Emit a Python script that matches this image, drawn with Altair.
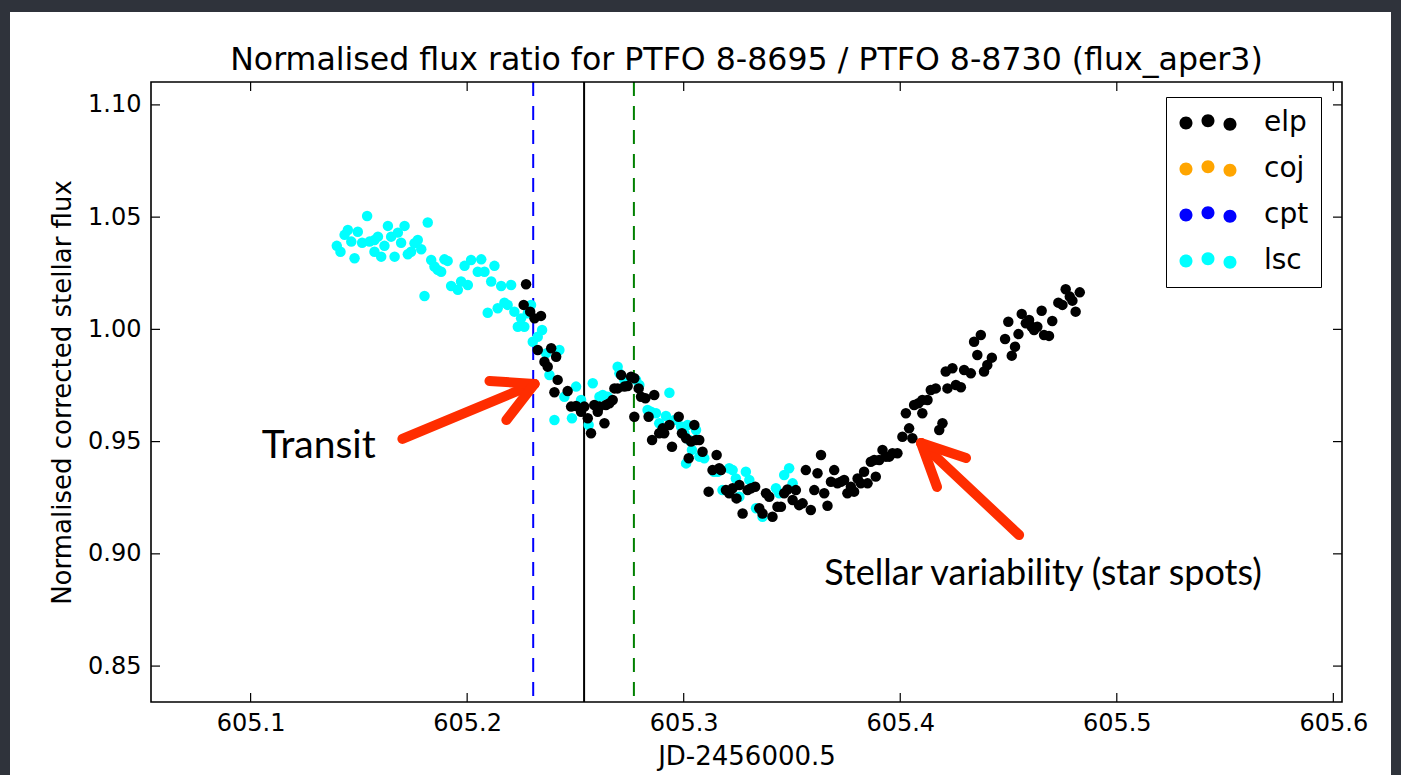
import altair as alt
import pandas as pd

# ---------------- data ----------------
elp_x = [605.2272, 605.2261, 605.2291, 605.2311, 605.2341, 605.2326, 605.2388, 605.2411, 605.2357, 605.2372,
         605.2418, 605.2403,
         605.2464, 605.2480, 605.2503, 605.2526, 605.2541, 605.2557, 605.2572, 605.2587, 605.2603, 605.2611,
         605.2634, 605.2641, 605.2657, 605.2672, 605.2680, 605.2695, 605.2711, 605.2726, 605.2741, 605.2757,
         605.2772, 605.2772, 605.2792, 605.2803, 605.2823, 605.2838, 605.2864, 605.2854, 605.2887, 605.2903,
         605.2910, 605.2934, 605.2946, 605.2977, 605.2992, 605.3011, 605.3023, 605.3034, 605.3049, 605.3057,
         605.3072, 605.3087, 605.3115, 605.3133, 605.3152, 605.3164, 605.3172, 605.3195, 605.3210, 605.3226,
         605.3244, 605.3257, 605.3272, 605.3295, 605.3311, 605.3330, 605.3349, 605.3364, 605.3380, 605.3395,
         605.3410, 605.3433, 605.3449, 605.3464, 605.3479, 605.3503, 605.3518, 605.3533, 605.3549, 605.3564,
         605.3587, 605.3603, 605.3618, 605.3634, 605.3649, 605.3664, 605.3680, 605.3695, 605.3710, 605.3726,
         605.3741, 605.3756, 605.3772, 605.3787, 605.3803, 605.3818, 605.3833, 605.3849, 605.3864, 605.3880,
         605.3887, 605.3903, 605.3918, 605.3934, 605.3949, 605.3964, 605.3987, 605.4010, 605.4026, 605.4041,
         605.4056, 605.4064, 605.4084, 605.4102, 605.4102, 605.4126, 605.4141, 605.4164, 605.4180, 605.4195,
         605.4210, 605.4218,
         605.4257, 605.4280, 605.4241, 605.4295, 605.4326, 605.4341, 605.4372, 605.4356, 605.4387, 605.4402,
         605.4423, 605.4484, 605.4499, 605.4515, 605.4530, 605.4546, 605.4561, 605.4580, 605.4595, 605.4607,
         605.4618, 605.4633, 605.4653, 605.4664, 605.4687, 605.4702, 605.4730, 605.4749, 605.4764, 605.4783,
         605.4795, 605.4810, 605.4829]
elp_y = [1.0201, 1.0109, 1.0079, 1.0049, 1.0060, 0.9908, 0.9916, 0.9878, 0.9856, 0.9834,
         0.9775, 0.9720,
         0.9725, 0.9656, 0.9659, 0.9633, 0.9656, 0.9604, 0.9537, 0.9663, 0.9633, 0.9656,
         0.9582, 0.9663, 0.9671, 0.9685, 0.9737, 0.9737, 0.9797, 0.9745, 0.9748, 0.9789,
         0.9611, 0.9782, 0.9737, 0.9700, 0.9693, 0.9611, 0.9708, 0.9507, 0.9537, 0.9559,
         0.9537, 0.9574, 0.9477, 0.9611, 0.9537, 0.9515, 0.9426, 0.9500, 0.9574, 0.9507,
         0.9507, 0.9455, 0.9277, 0.9373, 0.9440, 0.9381, 0.9373, 0.9284, 0.9270, 0.9292,
         0.9247, 0.9307, 0.9180, 0.9284, 0.9292, 0.9299, 0.9203, 0.9180, 0.9270, 0.9254,
         0.9165, 0.9210, 0.9210, 0.9270, 0.9287, 0.9240, 0.9284, 0.9217, 0.9225, 0.9373,
         0.9195, 0.9284, 0.9359, 0.9440, 0.9270, 0.9214, 0.9321, 0.9373, 0.9314, 0.9321,
         0.9329, 0.9270, 0.9299, 0.9277, 0.9336, 0.9314, 0.9366, 0.9314, 0.9410, 0.9418,
         0.9344, 0.9418, 0.9463, 0.9433, 0.9433, 0.9448, 0.9448, 0.9522, 0.9626, 0.9559,
         0.9515, 0.9663, 0.9671, 0.9626, 0.9685, 0.9685, 0.9730, 0.9737, 0.9552, 0.9582,
         0.9812, 0.9737,
         0.9752, 0.9742, 0.9827, 0.9819, 0.9804, 0.9945, 0.9975, 0.9886, 0.9812, 0.9841,
         0.9874, 0.9957, 1.0034, 0.9883, 0.9923, 0.9979, 1.0069, 1.0027, 1.0042, 1.0012,
         0.9997, 1.0012, 1.0083, 0.9975, 0.9971, 1.0037, 1.0119, 1.0109, 1.0179, 1.0146,
         1.0128, 1.0079, 1.0165]

lsc_x = [605.1398, 605.1415, 605.1434, 605.1449, 605.1465, 605.1480, 605.1495, 605.1515, 605.1538, 605.1549,
         605.1572, 605.1572, 605.1588, 605.1603, 605.1618, 605.1634, 605.1649, 605.1665, 605.1680, 605.1695,
         605.1711, 605.1726, 605.1741, 605.1757, 605.1772, 605.1788, 605.1803, 605.1818, 605.1834, 605.1849,
         605.1864, 605.1880, 605.1895, 605.1910, 605.1926, 605.1957, 605.1972, 605.1988, 605.2003, 605.2018,
         605.2049, 605.2065, 605.2080, 605.2095, 605.2111, 605.2126, 605.2141, 605.2157, 605.2172, 605.2187,
         605.2203, 605.2218, 605.2234, 605.2249, 605.2264, 605.2280, 605.2295, 605.2303, 605.2326, 605.2346,
         605.2365, 605.2380, 605.2403,
         605.2426, 605.2449, 605.2484, 605.2503, 605.2526, 605.2561, 605.2580, 605.2611, 605.2626, 605.2649,
         605.2695, 605.2703, 605.2726, 605.2780, 605.2795, 605.2833, 605.2849, 605.2872, 605.2887, 605.2918,
         605.2934, 605.2957, 605.2988, 605.3003, 605.3018, 605.3026, 605.3038, 605.3057, 605.3072, 605.3011,
         605.3095, 605.3140, 605.3157, 605.3179, 605.3210, 605.3226, 605.3241, 605.3257, 605.3287, 605.3303,
         605.3334, 605.3364, 605.3426, 605.3441, 605.3464, 605.3487, 605.3503]
lsc_y = [1.0372, 1.0346, 1.0421, 1.0443, 1.0391, 1.0317, 1.0435, 1.0386, 1.0505, 1.0391,
         1.0398, 1.0346, 1.0413, 1.0324, 1.0372, 1.0461, 1.0413, 1.0324, 1.0431, 1.0386,
         1.0461, 1.0335, 1.0346, 1.0384, 1.0398, 1.0357, 1.0149, 1.0476, 1.0309, 1.0280,
         1.0265, 1.0257, 1.0312, 1.0305, 1.0193, 1.0176, 1.0213, 1.0283, 1.0198, 1.0309,
         1.0257, 1.0312, 1.0257, 1.0074, 1.0213, 1.0283, 1.0094, 1.0193, 1.0119, 1.0109,
         1.0198, 1.0079, 1.0012, 1.0049, 1.0012, 1.0072, 1.0109, 0.9945, 0.9967, 0.9997,
         0.9893, 0.9797, 0.9596,
         0.9908, 0.9700, 0.9604, 0.9745, 0.9685, 0.9574, 0.9760, 0.9700, 0.9708, 0.9700,
         0.9834, 0.9804, 0.9775, 0.9775, 0.9752, 0.9641, 0.9633, 0.9626, 0.9582, 0.9614,
         0.9718, 0.9596, 0.9567, 0.9537, 0.9574, 0.9507, 0.9463, 0.9552, 0.9433, 0.9403,
         0.9426, 0.9366, 0.9366, 0.9284, 0.9381, 0.9373, 0.9336, 0.9254, 0.9366, 0.9329,
         0.9203, 0.9165, 0.9292, 0.9270, 0.9351, 0.9381, 0.9314]

series_names = ["elp", "coj", "cpt", "lsc"]
series_colors = ["#000000", "#FFA500", "#0000FF", "#00FFFF"]

x_ticks = [605.1, 605.2, 605.3, 605.4, 605.5, 605.6]
y_ticks = [0.85, 0.90, 0.95, 1.00, 1.05, 1.10]
x_domain = [605.054, 605.604]
y_domain = [0.834, 1.1102]

vline_x = [605.2305, 605.254, 605.277]

title_text = "Normalised flux ratio for PTFO 8-8695 / PTFO 8-8730 (flux_aper3)"
x_title = "JD-2456000.5"
y_title = "Normalised corrected stellar flux"

# annotations (data units)
arrow_x1 = [605.1701, 605.2311, 605.2311, 605.4549, 605.4096, 605.4096]
arrow_y1 = [0.9512, 0.9757, 0.9757, 0.9084, 0.9494, 0.9494]
arrow_x2 = [605.2311, 605.2103, 605.2181, 605.4096, 605.4304, 605.4170]
arrow_y2 = [0.9757, 0.9770, 0.9596, 0.9494, 0.9427, 0.9298]
note_text = ["Transit", "Stellar variability (star spots)"]
note_x = [605.1051, 605.3649]
note_y = [0.9427, 0.8861]
note_size = [39, 36]

# ---------------- layout ----------------
W, H = 1191, 620
FONT = "DejaVu Sans"

xs = alt.Scale(domain=x_domain, nice=False, zero=False)
ys = alt.Scale(domain=y_domain, nice=False, zero=False)

pts = pd.concat([
    pd.DataFrame({"jd": lsc_x, "flux": lsc_y, "site": "lsc"}),
    pd.DataFrame({"jd": elp_x, "flux": elp_y, "site": "elp"}),
], ignore_index=True)

three_dots = ("M-2.85,0A0.65,0.65,0,1,0,-1.55,0A0.65,0.65,0,1,0,-2.85,0Z"
              "M-0.65,-0.23A0.65,0.65,0,1,0,0.65,-0.23A0.65,0.65,0,1,0,-0.65,-0.23Z"
              "M1.55,0.13A0.65,0.65,0,1,0,2.85,0.13A0.65,0.65,0,1,0,1.55,0.13Z")

# white slide area behind the figure
bg = alt.Chart(pd.DataFrame({"a": [0]})).mark_rect(fill="white").encode(
    x=alt.value(-141), x2=alt.value(1240), y=alt.value(-70), y2=alt.value(720))

title_mark = alt.Chart(pd.DataFrame({"t": [title_text]})).mark_text(
    font=FONT, fontSize=31.6, color="black", align="center", baseline="alphabetic").encode(
    text="t:N", x=alt.value(W / 2), y=alt.value(-12))

points = alt.Chart(pts).mark_circle(size=110, opacity=1).encode(
    x=alt.X("jd:Q", scale=xs, title=x_title,
            axis=alt.Axis(values=x_ticks, format=".1f", labelPadding=9, titlePadding=8, zindex=1)),
    y=alt.Y("flux:Q", scale=ys, title=y_title,
            axis=alt.Axis(values=y_ticks, format=".2f", labelPadding=10, titlePadding=12, zindex=1)),
    color=alt.Color("site:N", scale=alt.Scale(domain=series_names, range=series_colors),
                    legend=alt.Legend(title=None, orient="none", legendX=1015, legendY=15,
                                      symbolType=three_dots, symbolSize=400, symbolStrokeWidth=0,
                                      symbolOffset=16,
                                      labelFontSize=28, labelFont=FONT, labelColor="black",
                                      labelOffset=42, padding=12, rowPadding=18,
                                      strokeColor="black", fillColor="white")),
)

vl_blue = alt.Chart(pd.DataFrame({"x": [vline_x[0]]})).mark_rule(
    color="#0000FF", strokeWidth=2, strokeDash=[14, 10]).encode(x=alt.X("x:Q", scale=xs, title=x_title))
vl_black = alt.Chart(pd.DataFrame({"x": [vline_x[1]]})).mark_rule(
    color="#000000", strokeWidth=2).encode(x=alt.X("x:Q", scale=xs, title=x_title))
vl_green = alt.Chart(pd.DataFrame({"x": [vline_x[2]]})).mark_rule(
    color="#008000", strokeWidth=2, strokeDash=[14, 10]).encode(x=alt.X("x:Q", scale=xs, title=x_title))

xt = pd.DataFrame({"t": x_ticks})
yt = pd.DataFrame({"t": y_ticks})
tick_style = dict(color="black", strokeWidth=1.2)
xtick_b = alt.Chart(xt).mark_rule(**tick_style).encode(
    x=alt.X("t:Q", scale=xs, title=x_title), y=alt.value(H), y2=alt.value(H - 9))
xtick_t = alt.Chart(xt).mark_rule(**tick_style).encode(
    x=alt.X("t:Q", scale=xs, title=x_title), y=alt.value(0), y2=alt.value(9))
ytick_l = alt.Chart(yt).mark_rule(**tick_style).encode(
    y=alt.Y("t:Q", scale=ys, title=y_title), x=alt.value(0), x2=alt.value(9))
ytick_r = alt.Chart(yt).mark_rule(**tick_style).encode(
    y=alt.Y("t:Q", scale=ys, title=y_title), x=alt.value(W), x2=alt.value(W - 9))

frame = alt.Chart(pd.DataFrame({"a": [0]})).mark_rect(
    fill=None, stroke="black", strokeWidth=1.6).encode(
    x=alt.value(0), x2=alt.value(W), y=alt.value(0), y2=alt.value(H))

arrows_df = pd.DataFrame({"x1": arrow_x1, "y1": arrow_y1, "x2": arrow_x2, "y2": arrow_y2})
arrows = alt.Chart(arrows_df).mark_rule(color="#FF2D00", strokeWidth=10, strokeCap="round").encode(
    x=alt.X("x1:Q", scale=xs, title=x_title), y=alt.Y("y1:Q", scale=ys, title=y_title),
    x2="x2:Q", y2="y2:Q")

notes_df = pd.DataFrame({"txt": note_text, "x": note_x, "y": note_y, "s": note_size})
notes = alt.Chart(notes_df).mark_text(align="left", baseline="alphabetic", font="Lato",
                                      color="black").encode(
    x=alt.X("x:Q", scale=xs, title=x_title), y=alt.Y("y:Q", scale=ys, title=y_title),
    text="txt:N", size=alt.Size("s:Q", scale=None, legend=None))

chart = alt.layer(
    bg, title_mark, vl_blue, vl_black, vl_green, points, xtick_b, xtick_t, ytick_l, ytick_r,
    frame, arrows, notes
).properties(
    width=W, height=H,
    background="#2f333b",
    padding={"left": 151, "top": 82, "right": 59, "bottom": 73},
    autosize=alt.AutoSizeParams(type="none"),
).configure_view(stroke=None, fill=None).configure_axis(
    labelFont=FONT, labelFontSize=24, labelColor="black",
    titleFont=FONT, titleFontSize=26, titleFontWeight="normal", titleColor="black",
    ticks=False, tickSize=0, domain=False, grid=False,
)

chart.save("out.html", embed_options={"renderer": "svg", "actions": False})
